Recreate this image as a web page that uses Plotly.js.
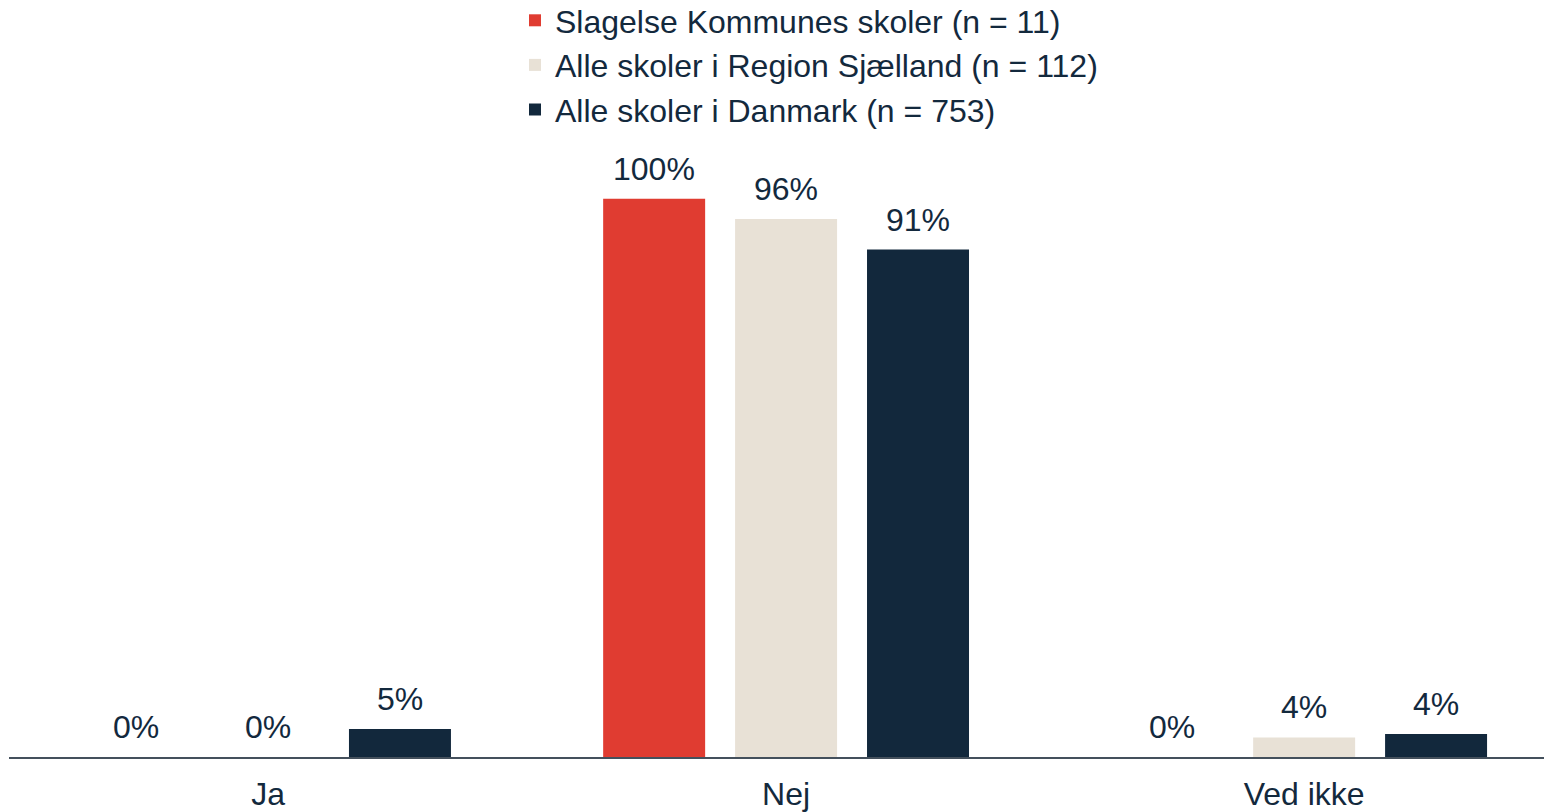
<!DOCTYPE html>
<html>
<head>
<meta charset="utf-8">
<script src="https://cdn.plot.ly/plotly-3.0.1.min.js"></script>
<style>html,body{margin:0;padding:0;background:#fff}#chart{width:1544px;height:812px}</style>
</head>
<body>
<div id="chart"></div>
<script>
const categories = ['Ja', 'Nej', 'Ved ikke'];
const seriesNames = ['Slagelse Kommunes skoler (n = 11)', 'Alle skoler i Region Sjælland (n = 112)', 'Alle skoler i Danmark (n = 753)'];
const slagelse = [0, 100, 0];
const region = [0, 96.4, 3.5];
const danmark = [5.0, 90.9, 4.1];
const colors = ['#e03c31', '#e8e1d6', '#12283c'];
const seriesValues = [slagelse, region, danmark];

const textColor = '#13293d';
const fontFamily = 'Liberation Sans, Arial, sans-serif';
const bargap = 0.236;
const bargroupgap = 0.227;

const traces = seriesValues.map((vals, i) => ({
  type: 'bar',
  name: seriesNames[i],
  x: categories,
  y: vals,
  legendgroup: 'g' + i,
  marker: {color: colors[i]},
  hoverinfo: 'skip'
}));

// value labels above each bar, placed on the bar's own slot in the group
const nSeries = seriesValues.length;
const slot = (1 - bargap) / nSeries;
const annotations = [];
seriesValues.forEach((vals, si) => {
  vals.forEach((v, ci) => {
    annotations.push({
      xref: 'x', yref: 'y',
      x: ci + (si - (nSeries - 1) / 2) * slot,
      y: v,
      text: Math.round(v) + '%',
      showarrow: false,
      xanchor: 'center', yanchor: 'bottom',
      yshift: 10,
      font: {size: 32, color: textColor, family: fontFamily}
    });
  });
});

const layout = {
  width: 1544,
  height: 812,
  margin: {l: 9, r: 0, t: 143, b: 55, autoexpand: false},
  paper_bgcolor: '#ffffff',
  plot_bgcolor: '#ffffff',
  barmode: 'group',
  bargap: bargap,
  bargroupgap: bargroupgap,
  showlegend: true,
  legend: {
    xref: 'container', yref: 'paper',
    x: 515 / 1544, y: 1.2443, xanchor: 'left', yanchor: 'top',
    font: {size: 32, color: textColor, family: fontFamily},
    traceorder: 'grouped',
    tracegroupgap: 0,
    bgcolor: 'rgba(0,0,0,0)'
  },
  annotations: annotations,
  xaxis: {
    range: [-0.5, 2.463],
    showline: true,
    linecolor: '#44505c',
    linewidth: 1.5,
    ticks: '',
    ticklabelstandoff: 8,
    showgrid: false,
    zeroline: false,
    automargin: false,
    tickfont: {size: 32, color: textColor, family: fontFamily},
    fixedrange: true
  },
  yaxis: {
    range: [0, 110],
    visible: false,
    showgrid: false,
    zeroline: false,
    automargin: false,
    fixedrange: true
  },
  font: {family: fontFamily, color: textColor}
};

Plotly.newPlot('chart', traces, layout, {displayModeBar: false, staticPlot: true});
</script>
</body>
</html>
